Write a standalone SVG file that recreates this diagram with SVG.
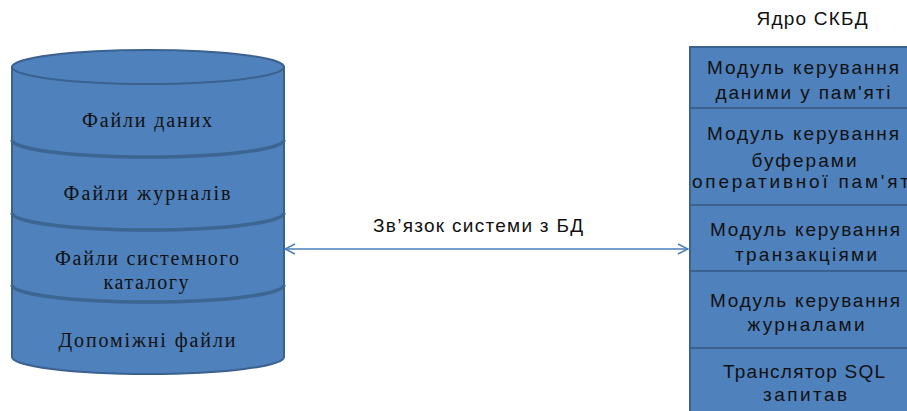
<svg xmlns="http://www.w3.org/2000/svg" width="907" height="411" viewBox="0 0 907 411">
  <defs>
    <style>
      .shape { fill: #4f81bd; stroke: #3a6190; stroke-width: 2; }
      .band { fill: none; stroke: #3d6591; stroke-width: 3.5; }
      .serif { font-family: "Liberation Serif", "Times New Roman", serif; font-size: 20px; fill: #111; text-anchor: middle; }
      .sans { font-family: "Liberation Sans", Arial, sans-serif; font-size: 19px; fill: #111; text-anchor: middle; }
      .link { stroke: #4a7ebb; stroke-width: 1.3; fill: none; }
    </style>
    <marker id="chev" viewBox="0 0 12 12" refX="11" refY="6" markerWidth="12" markerHeight="12" markerUnits="userSpaceOnUse" orient="auto-start-reverse">
      <path d="M1,1 L11,6 L1,11" fill="none" stroke="#4a7ebb" stroke-width="1.4"/>
    </marker>
  </defs>
  <rect width="907" height="411" fill="#ffffff"/>

  <!-- database storage cylinder -->
  <g id="db-storage">
    <path class="shape" d="M12,67 L12,357 A136,17 0 0 0 284,357 L284,67 Z"/>
    <ellipse class="shape" cx="148" cy="67" rx="136" ry="17"/>
    <path class="band" d="M12,140 A136,17 0 0 0 284,140"/>
    <path class="band" d="M12,213 A136,17 0 0 0 284,213"/>
    <path class="band" d="M12,285 A136,17 0 0 0 284,285"/>
    <text class="serif" x="147" y="127" textLength="130" lengthAdjust="spacing">Файли  даних</text>
    <text class="serif" x="147" y="200" textLength="167" lengthAdjust="spacing">Файли  журналів</text>
    <text class="serif" x="147" y="265" textLength="184" lengthAdjust="spacing">Файли  системного</text>
    <text class="serif" x="146" y="289" textLength="85" lengthAdjust="spacing">каталогу</text>
    <text class="serif" x="147" y="347" textLength="177" lengthAdjust="spacing">Допоміжні  файли</text>
  </g>

  <!-- DBMS kernel title -->
  <g id="kernel-title">
    <text class="sans" x="812" y="25" textLength="111" lengthAdjust="spacing">Ядро СКБД</text>
  </g>

  <!-- kernel modules -->
  <g id="mod-data-memory">
    <rect class="shape" x="690" y="47" width="230" height="61"/>
    <text class="sans" x="803" y="74" textLength="192" lengthAdjust="spacing">Модуль керування</text>
    <text class="sans" x="803" y="99" textLength="175" lengthAdjust="spacing">даними у пам'яті</text>
  </g>
  <g id="mod-buffers">
    <rect class="shape" x="690" y="108" width="230" height="97"/>
    <text class="sans" x="803" y="140" textLength="192" lengthAdjust="spacing">Модуль керування</text>
    <text class="sans" x="804" y="167" textLength="105" lengthAdjust="spacing">буферами</text>
    <text class="sans" x="804" y="188" textLength="224" lengthAdjust="spacing">оперативної пам'яті</text>
  </g>
  <g id="mod-transactions">
    <rect class="shape" x="690" y="205" width="230" height="66"/>
    <text class="sans" x="805" y="236" textLength="190" lengthAdjust="spacing">Модуль керування</text>
    <text class="sans" x="806" y="261" textLength="142" lengthAdjust="spacing">транзакціями</text>
  </g>
  <g id="mod-logs">
    <rect class="shape" x="690" y="271" width="230" height="77"/>
    <text class="sans" x="805" y="307" textLength="190" lengthAdjust="spacing">Модуль керування</text>
    <text class="sans" x="806" y="331" textLength="117" lengthAdjust="spacing">журналами</text>
  </g>
  <g id="mod-sql">
    <rect class="shape" x="690" y="348" width="230" height="80"/>
    <text class="sans" x="804" y="378" textLength="162" lengthAdjust="spacing">Транслятор SQL</text>
    <text class="sans" x="805" y="401" textLength="84" lengthAdjust="spacing">запитав</text>
  </g>

  <!-- connection between the system and the database -->
  <g id="connectors">
    <line class="link" x1="285" y1="249" x2="688" y2="249" marker-start="url(#chev)" marker-end="url(#chev)"/>
    <text class="sans" x="478" y="232" font-size="18" textLength="210" lengthAdjust="spacing">Зв’язок системи з БД</text>
  </g>
</svg>
